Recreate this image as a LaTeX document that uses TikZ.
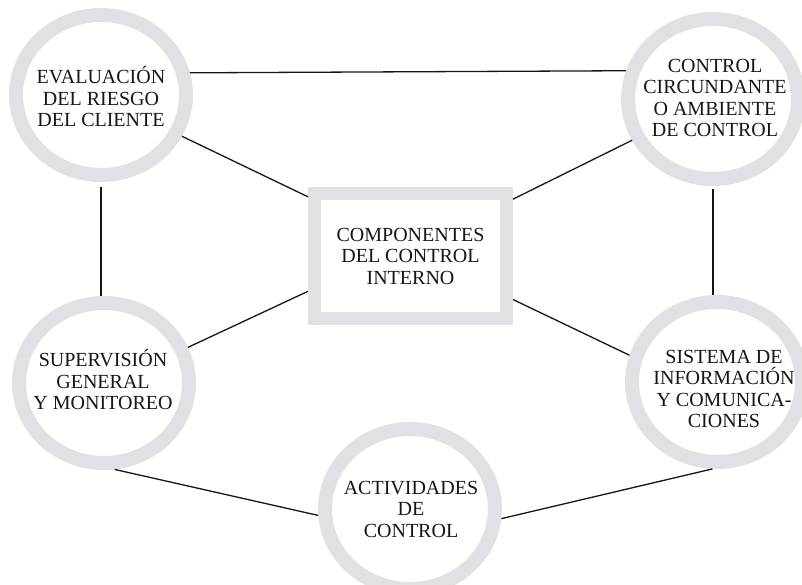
\documentclass[tikz,border=0pt]{standalone}
\usepackage{fontspec}
\setmainfont{Liberation Serif}
\usetikzlibrary{shapes.geometric}
\definecolor{ringgray}{RGB}{224,225,228}
\definecolor{inkcol}{RGB}{22,22,22}
\begin{document}
\begin{tikzpicture}[x=1pt,y=-1pt,
  ring/.style={ellipse, draw=ringgray, line width=14pt, inner sep=0pt, outer sep=7pt,
               minimum width=170pt, minimum height=160pt},
  txt/.style={align=center, inner sep=0pt, text=inkcol, font=\fontsize{20}{21.5}\selectfont},
  conn/.style={draw=inkcol, line width=1.3pt},
  frame/.style={rectangle, draw=ringgray, line width=13pt, outer sep=6.5pt,
                minimum width=192pt, minimum height=125pt, inner sep=0pt,
                align=center, text=inkcol, font=\fontsize{20}{21.5}\selectfont}]
\useasboundingbox (0,0) rectangle (802,584);
\fill[white] (0,0) rectangle (802,584);
% rings
\node[ring] (eval) at (101,95) {};
\node[ring] (ctrl) at (713,99) {};
\node[ring] (sup)  at (104,383) {};
\node[ring] (sis)  at (717,382) {};
\node[ring] (act)  at (410,509) {};
\node[frame] (box) at (410.5,256) {COMPONENTES\\DEL CONTROL\\INTERNO};
% texts
\node[txt] (evalt) at (101,97) {EVALUACIÓN\\DEL RIESGO\\DEL CLIENTE};
\node[txt] (ctrlt) at (715,98) {CONTROL\\CIRCUNDANTE\\O AMBIENTE\\DE CONTROL};
\node[txt] (supt)  at (103,380) {SUPERVISIÓN\\GENERAL\\Y MONITOREO};
\node[txt] (sist)  at (724,389) {SISTEMA DE\\INFORMACIÓN\\Y COMUNICA-\\CIONES};
\node[txt] (actt)  at (411,509) {ACTIVIDADES\\DE\\CONTROL};
% connectors
\draw[conn] (eval.14.6) -- (ctrl.162.7);
\draw[conn] (eval.-27) -- (box.150);
\draw[conn] (ctrl.-153.4) -- (box.29.5);
\draw[conn] ([yshift=-5pt]eval.south) -- (eval.south |- sup.north);
\draw[conn] ([yshift=-3pt]ctrl.south) -- (ctrl.south |- sis.north);
\draw[conn] (sup.23.5) -- (box.199.4);
\draw[conn] (sis.163.7) -- (box.-23.2);
\draw[conn] (sup.-83.4) -- (act.184.4);
\draw[conn] (sis.-93.9) -- (act.-6.9);
\end{tikzpicture}
\end{document}
